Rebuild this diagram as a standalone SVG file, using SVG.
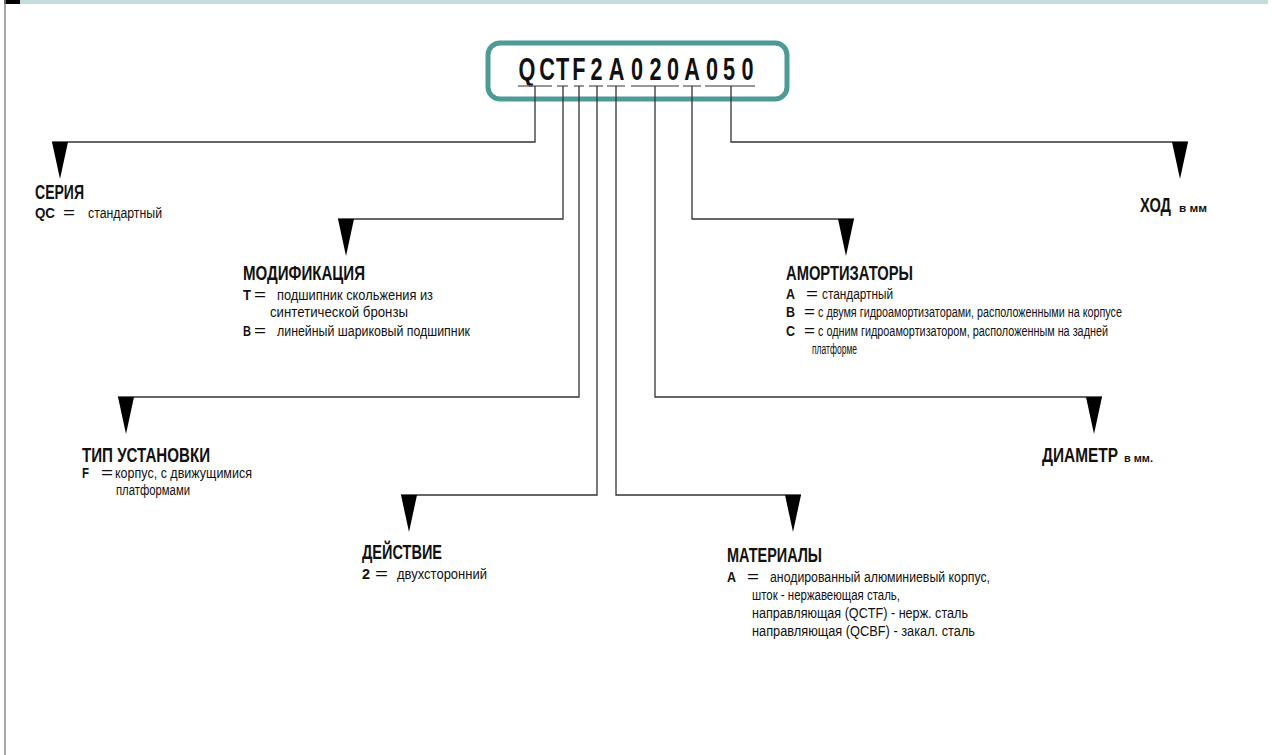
<svg xmlns="http://www.w3.org/2000/svg" width="1272" height="755" viewBox="0 0 1272 755">
<style>
text{font-family:"Liberation Sans",Arial,sans-serif;fill:#111}
.t{font-size:19.5px;font-weight:bold}
.k{font-size:15.5px;font-weight:bold}
.e{font-size:16px}
.d{font-size:14px}
.u{font-size:11px;font-weight:bold}
.code{font-size:31px;font-weight:bold}
.con{fill:none;stroke:#333;stroke-width:1.3}
.ul{fill:none;stroke:#777;stroke-width:1.6}
</style>
<defs>
<polygon id="arr" points="-8,0 8,0 0,37" fill="#000"/>
</defs>
<rect x="0" y="0" width="1272" height="755" fill="#fff"/>
<rect x="20" y="0" width="1248" height="4" fill="#c4dcdc"/>
<rect x="4" y="0" width="16" height="4" fill="#000"/>
<line x1="5" y1="0" x2="5" y2="755" stroke="#888" stroke-width="1.5"/>

<g id="code">
<rect x="488" y="43" width="299" height="56" rx="12" fill="#fff" stroke="#4e9a94" stroke-width="5"/>
<text class="code" transform="scale(0.7,1)" y="80" text-anchor="middle" x="752.9 781.4 803.6 827.1 852.1 880.7 910 936.4 961.4 988.6 1017.1 1041.4 1067.9">QCTF2A020A050</text>
<path class="ul" d="M518 86H552M557 86H568M574 86H584M589 86H603M607 86H625M631 86H679M683 86H701M705 86H755"/>
</g>

<g id="connectors">
<path class="con" d="M535 86V142H52"/>
<path class="con" d="M563 86V219H338"/>
<path class="con" d="M579 86V397H118"/>
<path class="con" d="M597 86V495H401"/>
<path class="con" d="M616 86V495H801"/>
<path class="con" d="M655 86V397H1102"/>
<path class="con" d="M692 86V219H854"/>
<path class="con" d="M731 86V142H1188"/>
<use href="#arr" x="60" y="142"/>
<use href="#arr" x="346" y="219"/>
<use href="#arr" x="126" y="397"/>
<use href="#arr" x="409" y="495"/>
<use href="#arr" x="793" y="495"/>
<use href="#arr" x="1094" y="397"/>
<use href="#arr" x="846" y="219"/>
<use href="#arr" x="1180" y="142"/>
</g>

<g id="series">
<text class="t" x="35" y="199" textLength="49" lengthAdjust="spacingAndGlyphs">СЕРИЯ</text>
<text class="k" x="35" y="218" textLength="20" lengthAdjust="spacingAndGlyphs">QC</text>
<text class="e" x="63" y="218" textLength="12" lengthAdjust="spacingAndGlyphs">=</text>
<text class="d" x="88" y="218" textLength="74" lengthAdjust="spacingAndGlyphs">стандартный</text>
</g>

<g id="modification">
<text class="t" x="243" y="280" textLength="122" lengthAdjust="spacingAndGlyphs">МОДИФИКАЦИЯ</text>
<text class="k" x="243" y="300" textLength="8" lengthAdjust="spacingAndGlyphs">T</text>
<text class="e" x="254" y="300" textLength="12" lengthAdjust="spacingAndGlyphs">=</text>
<text class="d" x="277" y="300" textLength="156" lengthAdjust="spacingAndGlyphs">подшипник скольжения из</text>
<text class="d" x="270" y="317" textLength="138" lengthAdjust="spacingAndGlyphs">синтетической бронзы</text>
<text class="k" x="243" y="336" textLength="8" lengthAdjust="spacingAndGlyphs">B</text>
<text class="e" x="254" y="336" textLength="12" lengthAdjust="spacingAndGlyphs">=</text>
<text class="d" x="277" y="336" textLength="193" lengthAdjust="spacingAndGlyphs">линейный шариковый подшипник</text>
</g>

<g id="mounting">
<text class="t" x="82" y="462" textLength="128" lengthAdjust="spacingAndGlyphs">ТИП УСТАНОВКИ</text>
<text class="k" x="82" y="478" textLength="7" lengthAdjust="spacingAndGlyphs">F</text>
<text class="e" x="101" y="478" textLength="12" lengthAdjust="spacingAndGlyphs">=</text>
<text class="d" x="115" y="478" textLength="137" lengthAdjust="spacingAndGlyphs">корпус, с движущимися</text>
<text class="d" x="116" y="495" textLength="74" lengthAdjust="spacingAndGlyphs">платформами</text>
</g>

<g id="action">
<text class="t" x="362" y="559" textLength="80" lengthAdjust="spacingAndGlyphs">ДЕЙСТВИЕ</text>
<text class="k" x="362" y="579" textLength="8" lengthAdjust="spacingAndGlyphs">2</text>
<text class="e" x="375" y="579" textLength="13" lengthAdjust="spacingAndGlyphs">=</text>
<text class="d" x="397" y="579" textLength="90" lengthAdjust="spacingAndGlyphs">двухсторонний</text>
</g>

<g id="materials">
<text class="t" x="727" y="562" textLength="95" lengthAdjust="spacingAndGlyphs">МАТЕРИАЛЫ</text>
<text class="k" x="727" y="582" textLength="9" lengthAdjust="spacingAndGlyphs">A</text>
<text class="e" x="747" y="582" textLength="12" lengthAdjust="spacingAndGlyphs">=</text>
<text class="d" x="770" y="582" textLength="220" lengthAdjust="spacingAndGlyphs">анодированный алюминиевый корпус,</text>
<text class="d" x="752" y="600" textLength="148" lengthAdjust="spacingAndGlyphs">шток - нержавеющая сталь,</text>
<text class="d" x="752" y="618" textLength="216" lengthAdjust="spacingAndGlyphs">направляющая (QCTF) - нерж. сталь</text>
<text class="d" x="752" y="636" textLength="223" lengthAdjust="spacingAndGlyphs">направляющая (QCBF) - закал. сталь</text>
</g>

<g id="cushions">
<text class="t" x="786" y="280" textLength="127" lengthAdjust="spacingAndGlyphs">АМОРТИЗАТОРЫ</text>
<text class="k" x="786" y="299" textLength="9" lengthAdjust="spacingAndGlyphs">A</text>
<text class="e" x="806" y="299" textLength="12" lengthAdjust="spacingAndGlyphs">=</text>
<text class="d" x="822" y="299" textLength="71" lengthAdjust="spacingAndGlyphs">стандартный</text>
<text class="k" x="786" y="317" textLength="9" lengthAdjust="spacingAndGlyphs">B</text>
<text class="e" x="804" y="317" textLength="11" lengthAdjust="spacingAndGlyphs">=</text>
<text class="d" x="818" y="317" textLength="304" lengthAdjust="spacingAndGlyphs">с двумя гидроамортизаторами, расположенными на корпусе</text>
<text class="k" x="786" y="336" textLength="9" lengthAdjust="spacingAndGlyphs">C</text>
<text class="e" x="804" y="336" textLength="11" lengthAdjust="spacingAndGlyphs">=</text>
<text class="d" x="818" y="336" textLength="290" lengthAdjust="spacingAndGlyphs">с одним гидроамортизатором, расположенным на задней</text>
<text class="d" x="812" y="354" textLength="45" lengthAdjust="spacingAndGlyphs">платформе</text>
</g>

<g id="stroke">
<text class="t" x="1140" y="212" textLength="31" lengthAdjust="spacingAndGlyphs">ХОД</text>
<text class="u" x="1179" y="212" textLength="28" lengthAdjust="spacingAndGlyphs">в мм</text>
</g>

<g id="diameter">
<text class="t" transform="translate(1042,462) scale(0.79,1)" x="0" y="0">ДИАМЕТР</text>
<text class="u" x="1124" y="462" textLength="29" lengthAdjust="spacingAndGlyphs">в мм.</text>
</g>
</svg>
